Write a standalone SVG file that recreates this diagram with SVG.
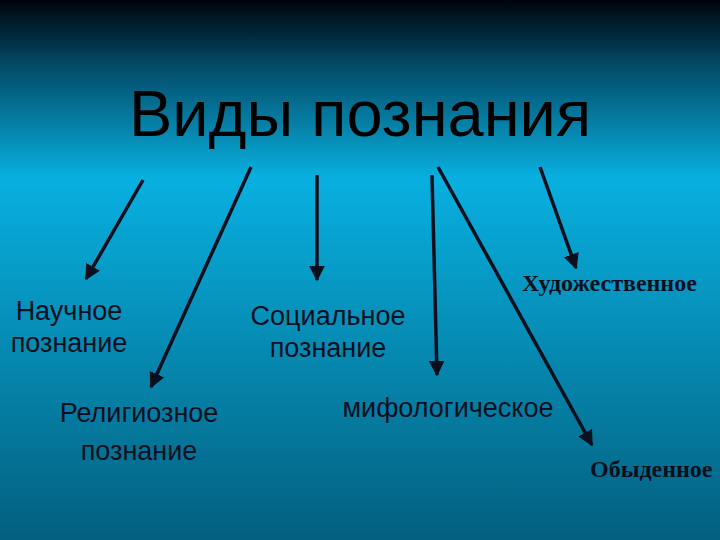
<svg xmlns="http://www.w3.org/2000/svg" width="720" height="540" viewBox="0 0 720 540">
<defs>
<linearGradient id="bg" x1="0" y1="0" x2="0" y2="1">
<stop offset="0" stop-color="#00040a"/>
<stop offset="0.12" stop-color="#034a66"/>
<stop offset="0.33" stop-color="#08b0e0"/>
<stop offset="1" stop-color="#035f7e"/>
</linearGradient>
<marker id="ah" viewBox="0 0 10 10" refX="9" refY="5" markerWidth="4.5" markerHeight="4.5" orient="auto" markerUnits="strokeWidth">
<path d="M0,0 L10,5 L0,10 z" fill="#0a0f1e"/>
</marker>
<style>
.c{stroke:#0a0f1e;stroke-width:3.5;fill:none;marker-end:url(#ah)}
.s{font-family:"Liberation Sans",Arial,sans-serif;fill:#0a0f1e;font-size:27px;text-anchor:middle}
.b{font-family:"Liberation Serif","Times New Roman",serif;font-weight:bold;fill:#0a0f1e;font-size:24px}
</style>
</defs>
<rect width="720" height="540" fill="url(#bg)"/>
<g id="title"><text x="360" y="136" font-family="Liberation Sans,Arial,sans-serif" font-size="65" fill="#000" text-anchor="middle">Виды познания</text></g>
<g id="connectors">
<line class="c" x1="143" y1="180" x2="86" y2="279"/>
<line class="c" x1="251" y1="167" x2="151" y2="387"/>
<line class="c" x1="317" y1="175" x2="317" y2="280"/>
<line class="c" x1="432" y1="175" x2="437" y2="375"/>
<line class="c" x1="438" y1="167" x2="592" y2="445"/>
<line class="c" x1="540" y1="167" x2="576" y2="268"/>
</g>
<g id="n1"><text class="s" x="69" y="320">Научное</text><text class="s" x="69" y="352">познание</text></g>
<g id="n2"><text class="s" x="139" y="422">Религиозное</text><text class="s" x="139" y="460">познание</text></g>
<g id="n3"><text class="s" x="328" y="325">Социальное</text><text class="s" x="328" y="357">познание</text></g>
<g id="n4"><text class="s" x="448" y="417">мифологическое</text></g>
<g id="n5"><text class="b" x="522" y="291">Художественное</text></g>
<g id="n6"><text class="b" x="590" y="477">Обыденное</text></g>
</svg>
